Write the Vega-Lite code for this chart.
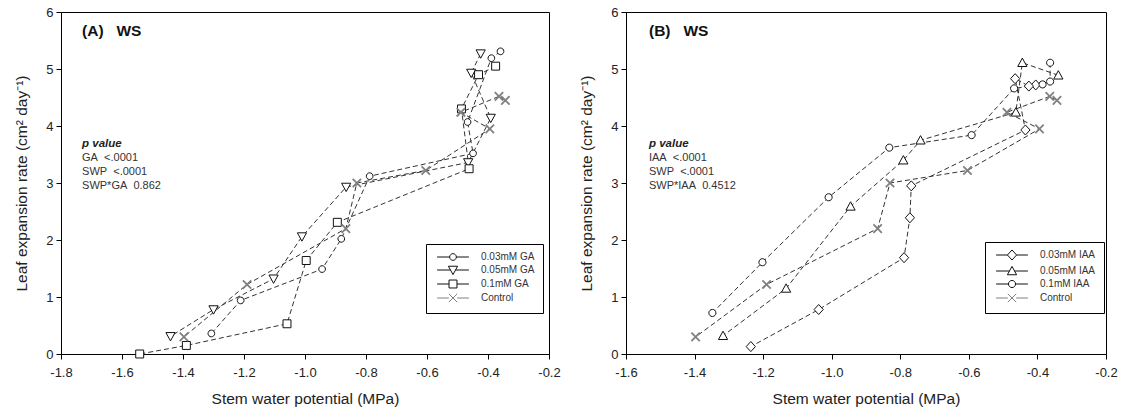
{
  "$schema": "https://vega.github.io/schema/vega-lite/v6.json",
  "background": "white",
  "padding": {"left": 14, "top": 5, "right": 5, "bottom": 3},
  "spacing": 18,
  "config": {
    "font": "Liberation Sans",
    "view": {"stroke": "black", "strokeWidth": 1},
    "axis": {
      "grid": false,
      "labelFont": "Liberation Sans",
      "labelFontSize": 13,
      "labelColor": "#222",
      "titleFont": "Liberation Sans",
      "titleFontSize": 15.5,
      "titleFontWeight": "normal",
      "titleColor": "#222",
      "tickColor": "black",
      "domainColor": "black",
      "tickSize": 5,
      "labelFlush": false
    },
    "axisX": {"titlePadding": 12, "labelPadding": 7},
    "axisY": {"titlePadding": 16, "labelPadding": 3},
    "legend": {"labelFont": "Liberation Sans", "labelFontSize": 10, "labelColor": "#333", "strokeColor": "black", "fillColor": "white", "padding": 8, "rowPadding": 1, "symbolSize": 70, "symbolOpacity": 1, "symbolStrokeWidth": 1, "symbolOffset": 14, "labelOffset": 23}
  },
  "datasets": {
    "notes": [
      {"panel": "A", "head": "(A)\u00a0\u00a0\u00a0WS", "ptitle": "p value", "stats": ["GA\u00a0\u00a0<.0001", "SWP\u00a0\u00a0<.0001", "SWP*GA\u00a0\u00a00.862"]},
      {"panel": "B", "head": "(B)\u00a0\u00a0\u00a0WS", "ptitle": "p value", "stats": ["IAA\u00a0\u00a0<.0001", "SWP\u00a0\u00a0<.0001", "SWP*IAA\u00a0\u00a00.4512"]}
    ],
    "pts": [
      {"panel": "A", "treatment": "0.03mM GA", "day": 1, "swp": -0.359, "ler": 5.31},
      {"panel": "A", "treatment": "0.03mM GA", "day": 2, "swp": -0.389, "ler": 5.19},
      {"panel": "A", "treatment": "0.03mM GA", "day": 3, "swp": -0.467, "ler": 4.07},
      {"panel": "A", "treatment": "0.03mM GA", "day": 4, "swp": -0.449, "ler": 3.52},
      {"panel": "A", "treatment": "0.03mM GA", "day": 5, "swp": -0.788, "ler": 3.12},
      {"panel": "A", "treatment": "0.03mM GA", "day": 6, "swp": -0.881, "ler": 2.02},
      {"panel": "A", "treatment": "0.03mM GA", "day": 7, "swp": -0.944, "ler": 1.49},
      {"panel": "A", "treatment": "0.03mM GA", "day": 8, "swp": -1.211, "ler": 0.94},
      {"panel": "A", "treatment": "0.03mM GA", "day": 9, "swp": -1.307, "ler": 0.36},
      {"panel": "A", "treatment": "0.05mM GA", "day": 1, "swp": -0.424, "ler": 5.27},
      {"panel": "A", "treatment": "0.05mM GA", "day": 2, "swp": -0.455, "ler": 4.93},
      {"panel": "A", "treatment": "0.05mM GA", "day": 3, "swp": -0.391, "ler": 4.14},
      {"panel": "A", "treatment": "0.05mM GA", "day": 4, "swp": -0.465, "ler": 3.36},
      {"panel": "A", "treatment": "0.05mM GA", "day": 5, "swp": -0.865, "ler": 2.93},
      {"panel": "A", "treatment": "0.05mM GA", "day": 6, "swp": -1.01, "ler": 2.06},
      {"panel": "A", "treatment": "0.05mM GA", "day": 7, "swp": -1.103, "ler": 1.32},
      {"panel": "A", "treatment": "0.05mM GA", "day": 8, "swp": -1.3, "ler": 0.78},
      {"panel": "A", "treatment": "0.05mM GA", "day": 9, "swp": -1.441, "ler": 0.31},
      {"panel": "A", "treatment": "0.1mM GA", "day": 1, "swp": -0.375, "ler": 5.05},
      {"panel": "A", "treatment": "0.1mM GA", "day": 2, "swp": -0.431, "ler": 4.9},
      {"panel": "A", "treatment": "0.1mM GA", "day": 3, "swp": -0.487, "ler": 4.3},
      {"panel": "A", "treatment": "0.1mM GA", "day": 4, "swp": -0.462, "ler": 3.25},
      {"panel": "A", "treatment": "0.1mM GA", "day": 5, "swp": -0.894, "ler": 2.31},
      {"panel": "A", "treatment": "0.1mM GA", "day": 6, "swp": -0.996, "ler": 1.64},
      {"panel": "A", "treatment": "0.1mM GA", "day": 7, "swp": -1.059, "ler": 0.53},
      {"panel": "A", "treatment": "0.1mM GA", "day": 8, "swp": -1.389, "ler": 0.15},
      {"panel": "A", "treatment": "0.1mM GA", "day": 9, "swp": -1.542, "ler": 0.0},
      {"panel": "A", "treatment": "Control", "day": 1, "swp": -0.343, "ler": 4.45},
      {"panel": "A", "treatment": "Control", "day": 2, "swp": -0.364, "ler": 4.52},
      {"panel": "A", "treatment": "Control", "day": 3, "swp": -0.489, "ler": 4.24},
      {"panel": "A", "treatment": "Control", "day": 4, "swp": -0.394, "ler": 3.95},
      {"panel": "A", "treatment": "Control", "day": 5, "swp": -0.604, "ler": 3.22},
      {"panel": "A", "treatment": "Control", "day": 6, "swp": -0.83, "ler": 3.0},
      {"panel": "A", "treatment": "Control", "day": 7, "swp": -0.866, "ler": 2.2},
      {"panel": "A", "treatment": "Control", "day": 8, "swp": -1.19, "ler": 1.22},
      {"panel": "A", "treatment": "Control", "day": 9, "swp": -1.397, "ler": 0.3},
      {"panel": "B", "treatment": "0.03mM IAA", "day": 1, "swp": -0.405, "ler": 4.72},
      {"panel": "B", "treatment": "0.03mM IAA", "day": 2, "swp": -0.425, "ler": 4.7},
      {"panel": "B", "treatment": "0.03mM IAA", "day": 3, "swp": -0.465, "ler": 4.83},
      {"panel": "B", "treatment": "0.03mM IAA", "day": 4, "swp": -0.435, "ler": 3.93},
      {"panel": "B", "treatment": "0.03mM IAA", "day": 5, "swp": -0.768, "ler": 2.95},
      {"panel": "B", "treatment": "0.03mM IAA", "day": 6, "swp": -0.772, "ler": 2.39},
      {"panel": "B", "treatment": "0.03mM IAA", "day": 7, "swp": -0.789, "ler": 1.69},
      {"panel": "B", "treatment": "0.03mM IAA", "day": 8, "swp": -1.038, "ler": 0.78},
      {"panel": "B", "treatment": "0.03mM IAA", "day": 9, "swp": -1.236, "ler": 0.13},
      {"panel": "B", "treatment": "0.05mM IAA", "day": 1, "swp": -0.339, "ler": 4.89},
      {"panel": "B", "treatment": "0.05mM IAA", "day": 2, "swp": -0.444, "ler": 5.11},
      {"panel": "B", "treatment": "0.05mM IAA", "day": 3, "swp": -0.463, "ler": 4.24},
      {"panel": "B", "treatment": "0.05mM IAA", "day": 4, "swp": -0.741, "ler": 3.75},
      {"panel": "B", "treatment": "0.05mM IAA", "day": 5, "swp": -0.791, "ler": 3.4},
      {"panel": "B", "treatment": "0.05mM IAA", "day": 6, "swp": -0.945, "ler": 2.59},
      {"panel": "B", "treatment": "0.05mM IAA", "day": 7, "swp": -1.133, "ler": 1.15},
      {"panel": "B", "treatment": "0.05mM IAA", "day": 8, "swp": -1.317, "ler": 0.32},
      {"panel": "B", "treatment": "0.1mM IAA", "day": 1, "swp": -0.363, "ler": 5.11},
      {"panel": "B", "treatment": "0.1mM IAA", "day": 2, "swp": -0.363, "ler": 4.78},
      {"panel": "B", "treatment": "0.1mM IAA", "day": 3, "swp": -0.385, "ler": 4.73},
      {"panel": "B", "treatment": "0.1mM IAA", "day": 4, "swp": -0.468, "ler": 4.66},
      {"panel": "B", "treatment": "0.1mM IAA", "day": 5, "swp": -0.592, "ler": 3.84},
      {"panel": "B", "treatment": "0.1mM IAA", "day": 6, "swp": -0.832, "ler": 3.62},
      {"panel": "B", "treatment": "0.1mM IAA", "day": 7, "swp": -1.009, "ler": 2.75},
      {"panel": "B", "treatment": "0.1mM IAA", "day": 8, "swp": -1.202, "ler": 1.61},
      {"panel": "B", "treatment": "0.1mM IAA", "day": 9, "swp": -1.348, "ler": 0.72},
      {"panel": "B", "treatment": "Control", "day": 1, "swp": -0.343, "ler": 4.45},
      {"panel": "B", "treatment": "Control", "day": 2, "swp": -0.364, "ler": 4.52},
      {"panel": "B", "treatment": "Control", "day": 3, "swp": -0.489, "ler": 4.24},
      {"panel": "B", "treatment": "Control", "day": 4, "swp": -0.394, "ler": 3.95},
      {"panel": "B", "treatment": "Control", "day": 5, "swp": -0.604, "ler": 3.22},
      {"panel": "B", "treatment": "Control", "day": 6, "swp": -0.83, "ler": 3.0},
      {"panel": "B", "treatment": "Control", "day": 7, "swp": -0.866, "ler": 2.2},
      {"panel": "B", "treatment": "Control", "day": 8, "swp": -1.19, "ler": 1.22},
      {"panel": "B", "treatment": "Control", "day": 9, "swp": -1.397, "ler": 0.3}
    ]
  },
  "hconcat": [
    {
      "width": 488,
      "height": 342,
      "data": {"name": "pts"},
      "layer": [
        {
          "transform": [{"filter": "datum.panel === 'A'"}],
          "mark": {"type": "line", "strokeDash": [5, 3], "strokeWidth": 1, "color": "#333"},
          "encoding": {
            "x": {"field": "swp", "type": "quantitative", "scale": {"domain": [-1.8, -0.2], "nice": false, "zero": false},
                  "axis": {"title": "Stem water potential (MPa)", "values": [-1.8, -1.6, -1.4, -1.2, -1.0, -0.8, -0.6, -0.4, -0.2], "labelExpr": "replace(format(datum.value, '.1f'), '\u2212', '-')"}},
            "y": {"field": "ler", "type": "quantitative", "scale": {"domain": [0, 6], "nice": false},
                  "axis": {"title": "Leaf expansion rate (cm² day⁻¹)", "values": [0, 1, 2, 3, 4, 5, 6], "format": "d"}},
            "detail": {"field": "treatment", "type": "nominal"},
            "order": {"field": "day", "type": "quantitative"}
          }
        },
        {
          "transform": [{"filter": "datum.panel === 'A'"}],
          "mark": {"type": "point", "filled": true, "fill": "white", "opacity": 1, "size": 70},
          "encoding": {
            "x": {"field": "swp", "type": "quantitative"},
            "y": {"field": "ler", "type": "quantitative"},
            "shape": {"field": "treatment", "type": "nominal", "legend": null,
              "scale": {"domain": ["0.03mM GA", "0.05mM GA", "0.1mM GA", "Control"],
                        "range": ["M0.8,0A0.8,0.8,0,1,1,-0.8,0A0.8,0.8,0,1,1,0.8,0Z", "M-1.1,-0.9L1.1,-0.9L0,1.1Z", "M-0.95,-0.95H0.95V0.95H-0.95Z", "M-1,-1L1,1M-1,1L1,-1"]}},
            "stroke": {"condition": {"test": "datum.treatment === 'Control'", "value": "#808080"}, "value": "#111"},
            "strokeWidth": {"condition": {"test": "datum.treatment === 'Control'", "value": 1.8}, "value": 1}
          }
        },
        {
          "transform": [{"filter": "datum.panel === 'legend only'"}],
          "mark": {"type": "point", "filled": true, "fill": "white", "opacity": 1, "size": 70},
          "encoding": {
            "x": {"field": "swp", "type": "quantitative"},
            "y": {"field": "ler", "type": "quantitative"},
            "shape": {"field": "treatment", "type": "nominal",
              "scale": {"domain": ["0.03mM GA", "0.05mM GA", "0.1mM GA", "Control"],
                        "range": ["M-3.8,0H-0.8M0.8,0H3.8M0.8,0A0.8,0.8,0,1,1,-0.8,0A0.8,0.8,0,1,1,0.8,0Z", "M-3.8,0H-0.6M0.6,0H3.8M-1.1,-0.9L1.1,-0.9L0,1.1Z", "M-3.8,0H-0.95M0.95,0H3.8M-0.95,-0.95H0.95V0.95H-0.95Z", "M-3.8,0H-1M1,0H3.8M-1,-1L1,1M-1,1L1,-1"]},
              "legend": {"title": null, "orient": "none", "legendX": 365, "legendY": 232}},
            "stroke": {"field": "treatment", "type": "nominal",
              "scale": {"domain": ["0.03mM GA", "0.05mM GA", "0.1mM GA", "Control"], "range": ["#111", "#111", "#111", "#808080"]},
              "legend": {"title": null, "orient": "none", "legendX": 365, "legendY": 232}}
          }
        },
        {
          "data": {"name": "notes"},
          "transform": [{"filter": "datum.panel === 'A'"}],
          "mark": {"type": "text", "align": "left", "baseline": "middle", "fontWeight": "bold", "fontSize": 15.5, "color": "#111"},
          "encoding": {"x": {"datum": -1.731}, "y": {"datum": 5.67}, "text": {"field": "head", "type": "nominal"}}
        },
        {
          "data": {"name": "notes"},
          "transform": [{"filter": "datum.panel === 'A'"}],
          "mark": {"type": "text", "align": "left", "baseline": "middle", "fontWeight": "bold", "fontStyle": "italic", "fontSize": 11.5, "color": "#222"},
          "encoding": {"x": {"datum": -1.731}, "y": {"datum": 3.69}, "text": {"field": "ptitle", "type": "nominal"}}
        },
        {
          "data": {"name": "notes"},
          "transform": [{"filter": "datum.panel === 'A'"}],
          "mark": {"type": "text", "align": "left", "baseline": "middle", "fontSize": 11, "lineHeight": 14, "color": "#333"},
          "encoding": {"x": {"datum": -1.731}, "y": {"datum": 3.44}, "text": {"field": "stats", "type": "nominal"}}
        }
      ],
      "resolve": {"scale": {"shape": "independent", "stroke": "independent"}, "legend": {"shape": "independent", "stroke": "independent"}}
    },
    {
      "width": 480,
      "height": 342,
      "data": {"name": "pts"},
      "layer": [
        {
          "transform": [{"filter": "datum.panel === 'B'"}],
          "mark": {"type": "line", "strokeDash": [5, 3], "strokeWidth": 1, "color": "#333"},
          "encoding": {
            "x": {"field": "swp", "type": "quantitative", "scale": {"domain": [-1.6, -0.2], "nice": false, "zero": false},
                  "axis": {"title": "Stem water potential (MPa)", "values": [-1.6, -1.4, -1.2, -1.0, -0.8, -0.6, -0.4, -0.2], "labelExpr": "replace(format(datum.value, '.1f'), '\u2212', '-')"}},
            "y": {"field": "ler", "type": "quantitative", "scale": {"domain": [0, 6], "nice": false},
                  "axis": {"title": "Leaf expansion rate (cm² day⁻¹)", "values": [0, 1, 2, 3, 4, 5, 6], "format": "d"}},
            "detail": {"field": "treatment", "type": "nominal"},
            "order": {"field": "day", "type": "quantitative"}
          }
        },
        {
          "transform": [{"filter": "datum.panel === 'B'"}],
          "mark": {"type": "point", "filled": true, "fill": "white", "opacity": 1, "size": 70},
          "encoding": {
            "x": {"field": "swp", "type": "quantitative"},
            "y": {"field": "ler", "type": "quantitative"},
            "shape": {"field": "treatment", "type": "nominal", "legend": null,
              "scale": {"domain": ["0.03mM IAA", "0.05mM IAA", "0.1mM IAA", "Control"],
                        "range": ["M0,-1.2L1.1,0L0,1.2L-1.1,0Z", "M-1.1,0.9L1.1,0.9L0,-1.1Z", "M0.85,0A0.85,0.85,0,1,1,-0.85,0A0.85,0.85,0,1,1,0.85,0Z", "M-1,-1L1,1M-1,1L1,-1"]}},
            "stroke": {"condition": {"test": "datum.treatment === 'Control'", "value": "#808080"}, "value": "#111"},
            "strokeWidth": {"condition": {"test": "datum.treatment === 'Control'", "value": 1.8}, "value": 1}
          }
        },
        {
          "transform": [{"filter": "datum.panel === 'legend only'"}],
          "mark": {"type": "point", "filled": true, "fill": "white", "opacity": 1, "size": 70},
          "encoding": {
            "x": {"field": "swp", "type": "quantitative"},
            "y": {"field": "ler", "type": "quantitative"},
            "shape": {"field": "treatment", "type": "nominal",
              "scale": {"domain": ["0.03mM IAA", "0.05mM IAA", "0.1mM IAA", "Control"],
                        "range": ["M-3.8,0H-1.1M1.1,0H3.8M0,-1.2L1.1,0L0,1.2L-1.1,0Z", "M-3.8,0H-0.6M0.6,0H3.8M-1.1,0.9L1.1,0.9L0,-1.1Z", "M-3.8,0H-0.85M0.85,0H3.8M0.85,0A0.85,0.85,0,1,1,-0.85,0A0.85,0.85,0,1,1,0.85,0Z", "M-3.8,0H-1M1,0H3.8M-1,-1L1,1M-1,1L1,-1"]},
              "legend": {"title": null, "orient": "none", "legendX": 359, "legendY": 230}},
            "stroke": {"field": "treatment", "type": "nominal",
              "scale": {"domain": ["0.03mM IAA", "0.05mM IAA", "0.1mM IAA", "Control"], "range": ["#111", "#111", "#111", "#808080"]},
              "legend": {"title": null, "orient": "none", "legendX": 359, "legendY": 230}}
          }
        },
        {
          "data": {"name": "notes"},
          "transform": [{"filter": "datum.panel === 'B'"}],
          "mark": {"type": "text", "align": "left", "baseline": "middle", "fontWeight": "bold", "fontSize": 15.5, "color": "#111"},
          "encoding": {"x": {"datum": -1.533}, "y": {"datum": 5.67}, "text": {"field": "head", "type": "nominal"}}
        },
        {
          "data": {"name": "notes"},
          "transform": [{"filter": "datum.panel === 'B'"}],
          "mark": {"type": "text", "align": "left", "baseline": "middle", "fontWeight": "bold", "fontStyle": "italic", "fontSize": 11.5, "color": "#222"},
          "encoding": {"x": {"datum": -1.533}, "y": {"datum": 3.69}, "text": {"field": "ptitle", "type": "nominal"}}
        },
        {
          "data": {"name": "notes"},
          "transform": [{"filter": "datum.panel === 'B'"}],
          "mark": {"type": "text", "align": "left", "baseline": "middle", "fontSize": 11, "lineHeight": 14, "color": "#333"},
          "encoding": {"x": {"datum": -1.533}, "y": {"datum": 3.44}, "text": {"field": "stats", "type": "nominal"}}
        }
      ],
      "resolve": {"scale": {"shape": "independent", "stroke": "independent"}, "legend": {"shape": "independent", "stroke": "independent"}}
    }
  ],
  "resolve": {"scale": {"shape": "independent", "stroke": "independent", "x": "independent", "y": "independent"}, "legend": {"shape": "independent", "stroke": "independent"}}
}
